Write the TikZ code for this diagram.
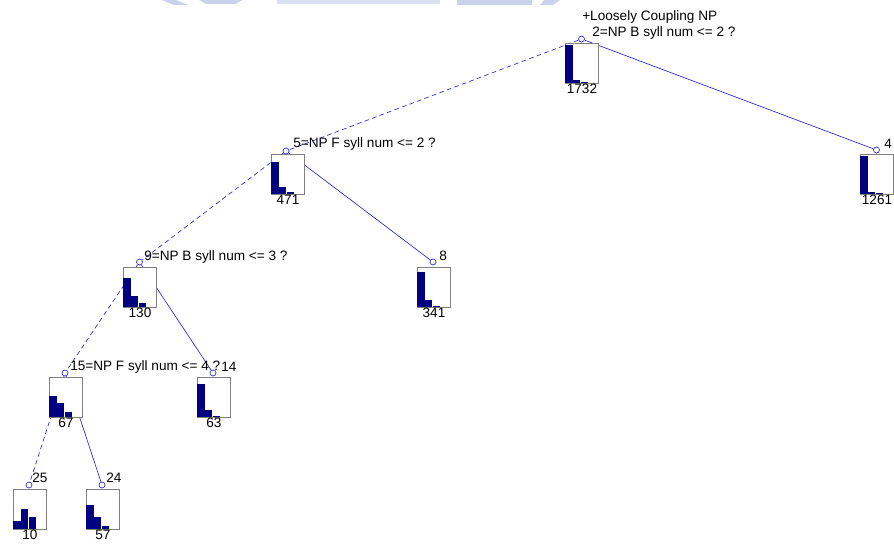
\documentclass[tikz,border=0pt]{standalone}
\usepackage{fontspec}
\setmainfont{Liberation Sans}
\usetikzlibrary{backgrounds}

\definecolor{barblue}{RGB}{0,0,128}
\definecolor{edgeblue}{RGB}{40,40,215}
\definecolor{boxgray}{RGB}{128,128,128}
\definecolor{markblue}{RGB}{200,210,236}

\tikzset{
  split/.style={circle, draw=edgeblue, inner sep=0pt, minimum size=4.5pt, line width=0.5pt},
  yes/.style={edgeblue, line width=0.5pt, dash pattern=on 3.5pt off 2.5pt},
  no/.style={edgeblue, line width=0.5pt},
  histframe/.style={draw=boxgray, fill=white, line width=0.7pt},
  bar/.style={fill=barblue},
  rule/.style={anchor=west, inner sep=0pt, font=\fontsize{10.2}{12}\selectfont},
  count/.style={inner sep=0pt, font=\fontsize{10.2}{12}\selectfont},
}

% box with three class bars: left, top, bar heights, count
\newcommand{\histbox}[6]{%
  \begin{scope}[shift={(#1,#2)}]
    \draw [histframe] (0,0) rectangle (33,40);
    \fill [bar] (0,40) rectangle (7.6,{40-#3});
    \fill [bar] (7.8,40) rectangle (15.4,{40-#4});
    \fill [bar] (15.6,40) rectangle (23.2,{40-#5});
    \node [count] at (17,46) {#6};
  \end{scope}}

\begin{document}
\begin{tikzpicture}[x=0.75pt, y=-0.75pt]
\useasboundingbox (0,0) rectangle (894,545);

% faint marks along the top edge
\fill [markblue] (162,0) -- (176,0) -- (188,5) -- (174,5) -- cycle;
\fill [markblue] (199,0) -- (243,0) -- (235,4) -- (206,4) -- cycle;
\fill [markblue!70] (277,0) rectangle (440,4);
\fill [markblue] (457,0) rectangle (532,5);
\fill [markblue] (544,0) -- (560,0) -- (553,5) -- (540,5) -- cycle;

% histogram boxes
\histbox{565}{43}{38}{3}{0.6}{1732}
\histbox{271}{154}{32}{7}{2}{471}
\histbox{860}{154}{38}{2}{0.5}{1261}
\histbox{123}{267}{29}{11}{4}{130}
\histbox{417}{267}{35}{7}{0.6}{341}
\histbox{49}{377}{21}{14}{5}{67}
\histbox{197}{377}{33}{7}{1}{63}
\histbox{13}{489}{8}{20}{12}{10}
\histbox{86}{489}{24}{12}{3}{57}

% split points
\node [split] (n2) at (581.5,39) {};
\node [split] (n5) at (286,151) {};
\node [split] (n4) at (876.5,150) {};
\node [split] (n9) at (139.5,262) {};
\node [split] (n8) at (433,262) {};
\node [split] (n15) at (65,373) {};
\node [split] (n14) at (213,373) {};
\node [split] (n25) at (29,485) {};
\node [split] (n24) at (102,485) {};

% rules and leaf numbers
\node [rule] at (582,17) {+Loosely Coupling NP};
\node [rule] at (592,33) {2=NP B syll num <= 2 ?};
\node [rule] at (293,144) {5=NP F syll num <= 2 ?};
\node [rule] at (884,144) {4};
\node [rule] at (144,257) {9=NP B syll num <= 3 ?};
\node [rule] at (439,256) {8};
\node [rule] at (70,367) {15=NP F syll num <= 4 ?};
\node [rule] at (221,367) {14};
\node [rule] at (32,478) {25};
\node [rule] at (106,478) {24};

% branches
\begin{scope}[on background layer]
\draw [yes] (n2) -- (n5);
\draw [no] (n2) -- (n4);
\draw [yes] (n5) -- (n9);
\draw [no] (n5) -- (n8);
\draw [yes] (n9) -- (n15);
\draw [no] (n9) -- (n14);
\draw [yes] (n15) -- (n25);
\draw [no] (n15) -- (n24);
\end{scope}
\end{tikzpicture}
\end{document}
